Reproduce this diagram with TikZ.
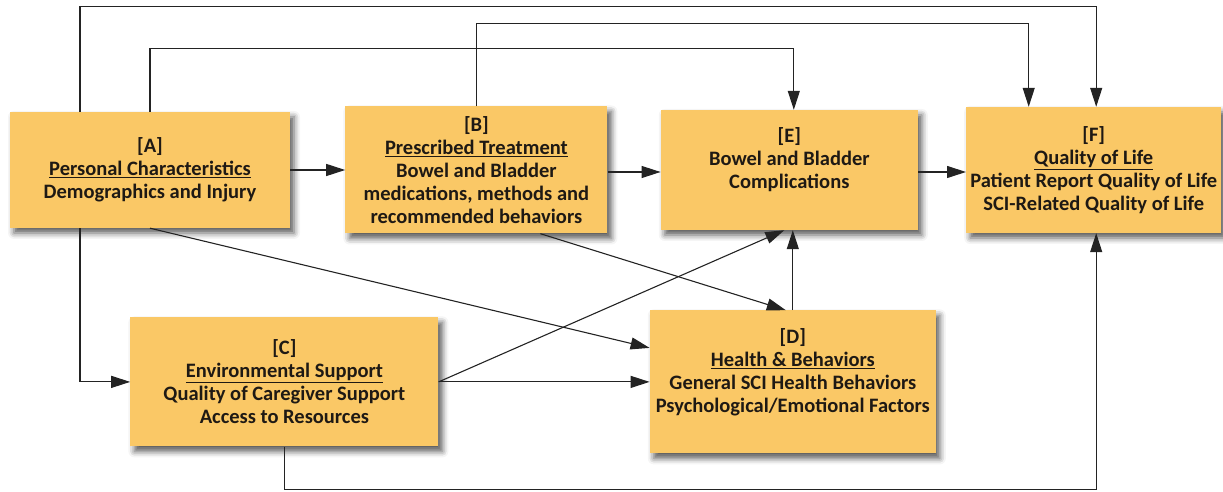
\documentclass[tikz,border=0pt]{standalone}
\usepackage{fontspec}
\setmainfont{Carlito}
\usepackage{xcolor}
\usepackage{tikz}
\usetikzlibrary{arrows.meta,positioning,shadows.blur}
\definecolor{boxorange}{RGB}{250,200,102}
\definecolor{linegray}{RGB}{35,35,35}
\definecolor{textdark}{RGB}{30,25,20}
\newcommand{\head}[1]{\underline{#1}}

\begin{document}
\begin{tikzpicture}[
  x=1pt,y=1pt,
  node distance=55pt,
  block/.style={rectangle,fill=boxorange,align=center,text=textdark,inner sep=0pt,
                font=\bfseries\fontsize{20.5}{23}\selectfont,
                blur shadow={shadow xshift=4pt,shadow yshift=-5pt,shadow blur radius=6pt,shadow opacity=65}},
  arrow/.style={-{Triangle[length=19pt,width=12pt]},draw=linegray,line width=1.1pt},
  line/.style={draw=linegray,line width=1.1pt}
]
\useasboundingbox (0,0) rectangle (1223,492);
\node[block,minimum width=280pt,minimum height=116pt] at (150,322) (A)
  {[A]\\\head{Personal Characteristics}\\Demographics and Injury};
\node[block,minimum width=262pt,minimum height=127pt,right=55pt of A] (B)
  {[B]\\\head{Prescribed Treatment}\\Bowel and Bladder\\medications, methods and\\recommended behaviors};
\node[block,minimum width=257pt,minimum height=120pt,right=53pt of B] (E)
  {[E]\\Bowel and Bladder\\Complications\\\mbox{}};
\node[block,minimum width=255pt,minimum height=126pt,right=48pt of E] (F)
  {[F]\\\head{Quality of Life}\\Patient Report Quality of Life\\SCI-Related Quality of Life};
\node[block,minimum width=286pt,minimum height=143pt,below=80pt of E,xshift=3.5pt] (D)
  {[D]\\\head{Health \& Behaviors}\\General SCI Health Behaviors\\Psychological/Emotional Factors\\\mbox{}};
\node[block,minimum width=308pt,minimum height=129pt,left=211pt of D] (C)
  {[C]\\\head{Environmental Support}\\Quality of Caregiver Support\\Access to Resources};
\draw[arrow] ([xshift=-70pt]A.north) -- ++(0,105) -| ([xshift=2.5pt]F.north);
\draw[arrow] (B.north) -- ++(0,83) -| ([xshift=-65pt]F.north);
\draw[arrow] (A.north) -- ++(0,63) -| ([xshift=4.5pt]E.north);
\draw[arrow] (A.east) -- (A.east -| B.west);
\draw[arrow] ([yshift=-2pt]B.east) -- ([yshift=-2pt]B.east -| E.west);
\draw[arrow] ([yshift=-2pt]E.east) -- ([yshift=-2pt]E.east -| F.west);
\draw[arrow] ([xshift=-70pt]A.south) |- (C.west);
\draw[arrow] (A.south) -- ([yshift=34pt]D.west);
\draw[arrow] ([xshift=64pt]B.south) -- ([xshift=-7pt]D.north);
\draw[arrow] (D.north) -- (D.north |- E.south);
\draw[arrow] (C.east) -- ([xshift=-5pt]E.south);
\draw[arrow] (C.east) -- (C.east -| D.west);
\draw[arrow] (C.south) -- ++(0,-43) -| ([xshift=2.5pt]F.south);
\end{tikzpicture}
\end{document}
